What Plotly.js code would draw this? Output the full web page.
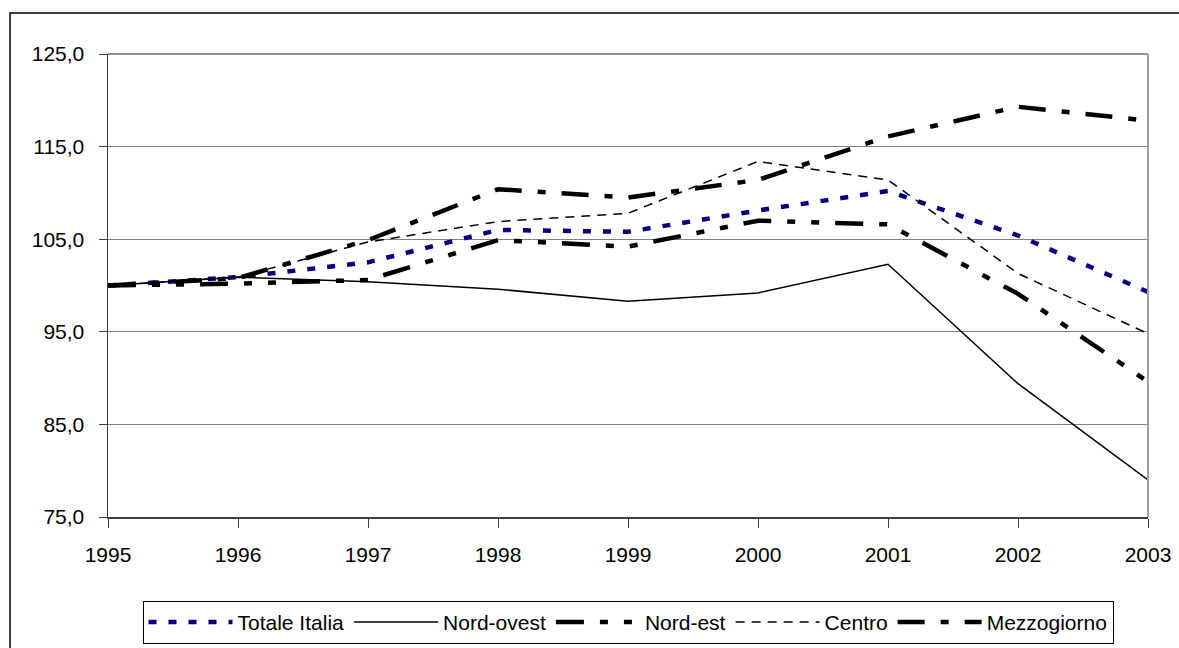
<!DOCTYPE html>
<html>
<head>
<meta charset="utf-8">
<script src="https://cdn.plot.ly/plotly-3.0.1.min.js"></script>
<style>
  html, body { margin: 0; padding: 0; background: #ffffff; }
  #chart { width: 1179px; height: 648px; }
</style>
</head>
<body>
<div id="chart"></div>
<script>
var years = [1995, 1996, 1997, 1998, 1999, 2000, 2001, 2002, 2003];
var seriesNames = ["Totale Italia", "Nord-ovest", "Nord-est", "Centro", "Mezzogiorno"];
var totaleItalia = [100.0, 100.9, 102.5, 106.0, 105.8, 108.1, 110.2, 105.4, 99.3];
var nordOvest = [100.0, 100.9, 100.4, 99.6, 98.3, 99.2, 102.3, 89.4, 79.0];
var nordEst = [100.0, 100.2, 100.6, 104.9, 104.2, 107.0, 106.6, 99.1, 89.6];
var centro = [100.0, 100.9, 104.7, 106.9, 107.8, 113.4, 111.4, 101.3, 94.8];
var mezzogiorno = [100.0, 100.8, 104.9, 110.4, 109.5, 111.4, 116.1, 119.3, 117.8];
var yTicks = [75, 85, 95, 105, 115, 125];

var FONT = "Liberation Sans, Arial, sans-serif";
var FS = 21;

var traces = [
  {x: years, y: totaleItalia, name: seriesNames[0], mode: "lines",
   line: {color: "#000080", width: 4.5, dash: "8px,12px"}},
  {x: years, y: nordOvest, name: seriesNames[1], mode: "lines",
   line: {color: "#000000", width: 1.5}},
  {x: years, y: nordEst, name: seriesNames[2], mode: "lines",
   line: {color: "#000000", width: 4.5, dash: "28px,16px,8px,16px,8px,16px"}},
  {x: years, y: centro, name: seriesNames[3], mode: "lines",
   line: {color: "#000000", width: 1.5, dash: "9px,7px"}},
  {x: years, y: mezzogiorno, name: seriesNames[4], mode: "lines",
   line: {color: "#000000", width: 4.5, dash: "27px,16px,8px,16px"}}
];

var layout = {
  width: 1179, height: 648,
  margin: {l: 108, r: 31, t: 54, b: 131, pad: 0, autoexpand: false},
  paper_bgcolor: "#ffffff", plot_bgcolor: "#ffffff",
  separators: ",.",
  font: {family: FONT, size: FS, color: "#000000"},
  showlegend: true,
  legend: {
    orientation: "h", x: 0.5, xanchor: "center", y: -0.181, yanchor: "top",
    bordercolor: "#000000", borderwidth: 1, bgcolor: "#ffffff",
    font: {family: FONT, size: FS, color: "#000000"},
    traceorder: "normal", itemwidth: 84
  },
  xaxis: {
    range: [1995, 2003], tickmode: "array", tickvals: years, ticktext: years.map(String),
    showgrid: false, zeroline: false,
    showline: true, linecolor: "#404040", linewidth: 1.5,
    ticks: "outside", ticklen: 9, tickwidth: 1, tickcolor: "#404040",
    ticklabelstandoff: 9,
    tickfont: {family: FONT, size: FS, color: "#000000"}
  },
  yaxis: {
    range: [75, 125], tickmode: "array", tickvals: yTicks,
    tickformat: ".1f",
    showgrid: true, gridcolor: "#808080", gridwidth: 1,
    zeroline: false,
    showline: true, linecolor: "#404040", linewidth: 1.5,
    ticks: "outside", ticklen: 8, tickwidth: 1, tickcolor: "#404040",
    ticklabelstandoff: 10,
    tickfont: {family: FONT, size: FS, color: "#000000"}
  },
  shapes: [
    {type: "rect", xref: "paper", yref: "paper", x0: -0.0942, x1: 1.06, y0: -0.32, y1: 1.0886,
     line: {color: "#000000", width: 1.5}, fillcolor: "rgba(0,0,0,0)", layer: "below"},
    {type: "line", xref: "paper", yref: "paper", x0: 1, x1: 1, y0: 0, y1: 1,
     line: {color: "#a0a0a0", width: 2}, layer: "above"},
    {type: "line", xref: "paper", yref: "paper", x0: 0, x1: 1, y0: 1, y1: 1,
     line: {color: "#909090", width: 2}, layer: "below"}
  ]
};

Plotly.newPlot("chart", traces, layout, {displayModeBar: false, staticPlot: true});
</script>
</body>
</html>
